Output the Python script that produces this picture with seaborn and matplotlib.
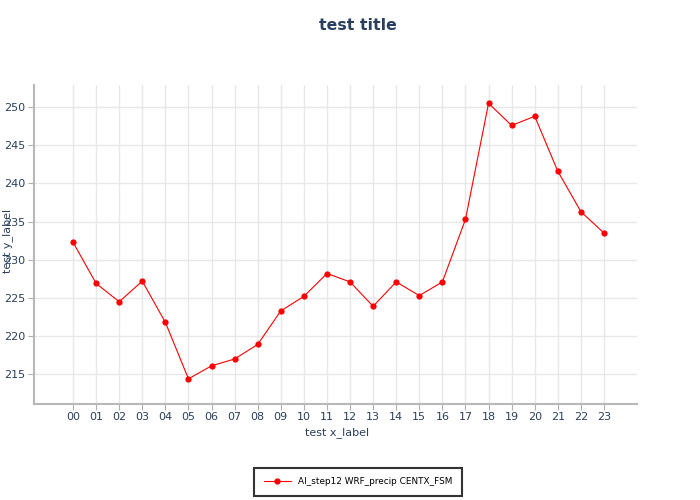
import numpy as np
import pandas as pd
import matplotlib
matplotlib.use("Agg")
import matplotlib.pyplot as plt
import seaborn as sns

hours = ["00", "01", "02", "03", "04", "05", "06", "07", "08", "09", "10", "11",
         "12", "13", "14", "15", "16", "17", "18", "19", "20", "21", "22", "23"]
precip = [232.3, 226.9, 224.5, 227.2, 221.8, 214.4, 216.1, 217.0, 218.9, 223.3, 225.2, 228.2,
          227.1, 223.9, 227.1, 225.3, 227.1, 235.3, 250.5, 247.6, 248.8, 241.6, 236.3, 233.5]
series_name = "AI_step12 WRF_precip CENTX_FSM"

TEXT = "#2a3f5f"

sns.set_theme(style="whitegrid")
plt.rcParams["font.family"] = ["DejaVu Sans"]

df = pd.DataFrame({"hour": np.arange(len(hours)), "value": precip, "series": series_name})

fig = plt.figure(figsize=(7, 5), dpi=100)
ax = fig.add_axes([34 / 700, 96 / 500, 603 / 700, 319 / 500])

sns.lineplot(data=df, x="hour", y="value", hue="series", palette=["red"],
             marker="o", markersize=4.5, markeredgewidth=0, linewidth=0.8, ax=ax, legend=False)

ax.set_xlim(-1.69, 24.43)
ax.set_ylim(211.1, 252.9)
ax.set_xticks(np.arange(len(hours)))
ax.set_xticklabels(hours)
ax.set_yticks([215, 220, 225, 230, 235, 240, 245, 250])

ax.grid(True, color="#e8e8e8", linewidth=1)
ax.set_facecolor("white")
for side in ["top", "right"]:
    ax.spines[side].set_visible(False)
for side in ["left", "bottom"]:
    ax.spines[side].set_color("#b8b8b8")
    ax.spines[side].set_linewidth(1.5)

ax.tick_params(axis="both", which="both", length=4, width=0.8, color="#b0b0b0",
               labelsize=8, labelcolor=TEXT, direction="out", bottom=True, left=True, pad=2)

ax.set_xlabel("test x_label", fontsize=8, color=TEXT)
ax.set_ylabel("test y_label", fontsize=8, color=TEXT)
ax.xaxis.set_label_coords(0.502, -0.072)
ax.yaxis.set_label_coords(-0.034, 0.51)

fig.text(358 / 700, 1 - 26 / 500, "test title", ha="center", va="center",
         fontsize=11.3, fontweight="bold", color=TEXT)

handle = plt.Line2D([], [], color="red", marker="o", markersize=3.5, linewidth=0.8)
leg = fig.legend([handle], [series_name], loc="center", bbox_to_anchor=(358 / 700, 1 - 482 / 500),
                 fontsize=6.4, frameon=True, fancybox=False, edgecolor="black",
                 borderpad=1.1, handlelength=3, borderaxespad=0)
leg.get_frame().set_linewidth(1.5)
for t in leg.get_texts():
    t.set_color("black")

fig.savefig("out.png", dpi=100)
